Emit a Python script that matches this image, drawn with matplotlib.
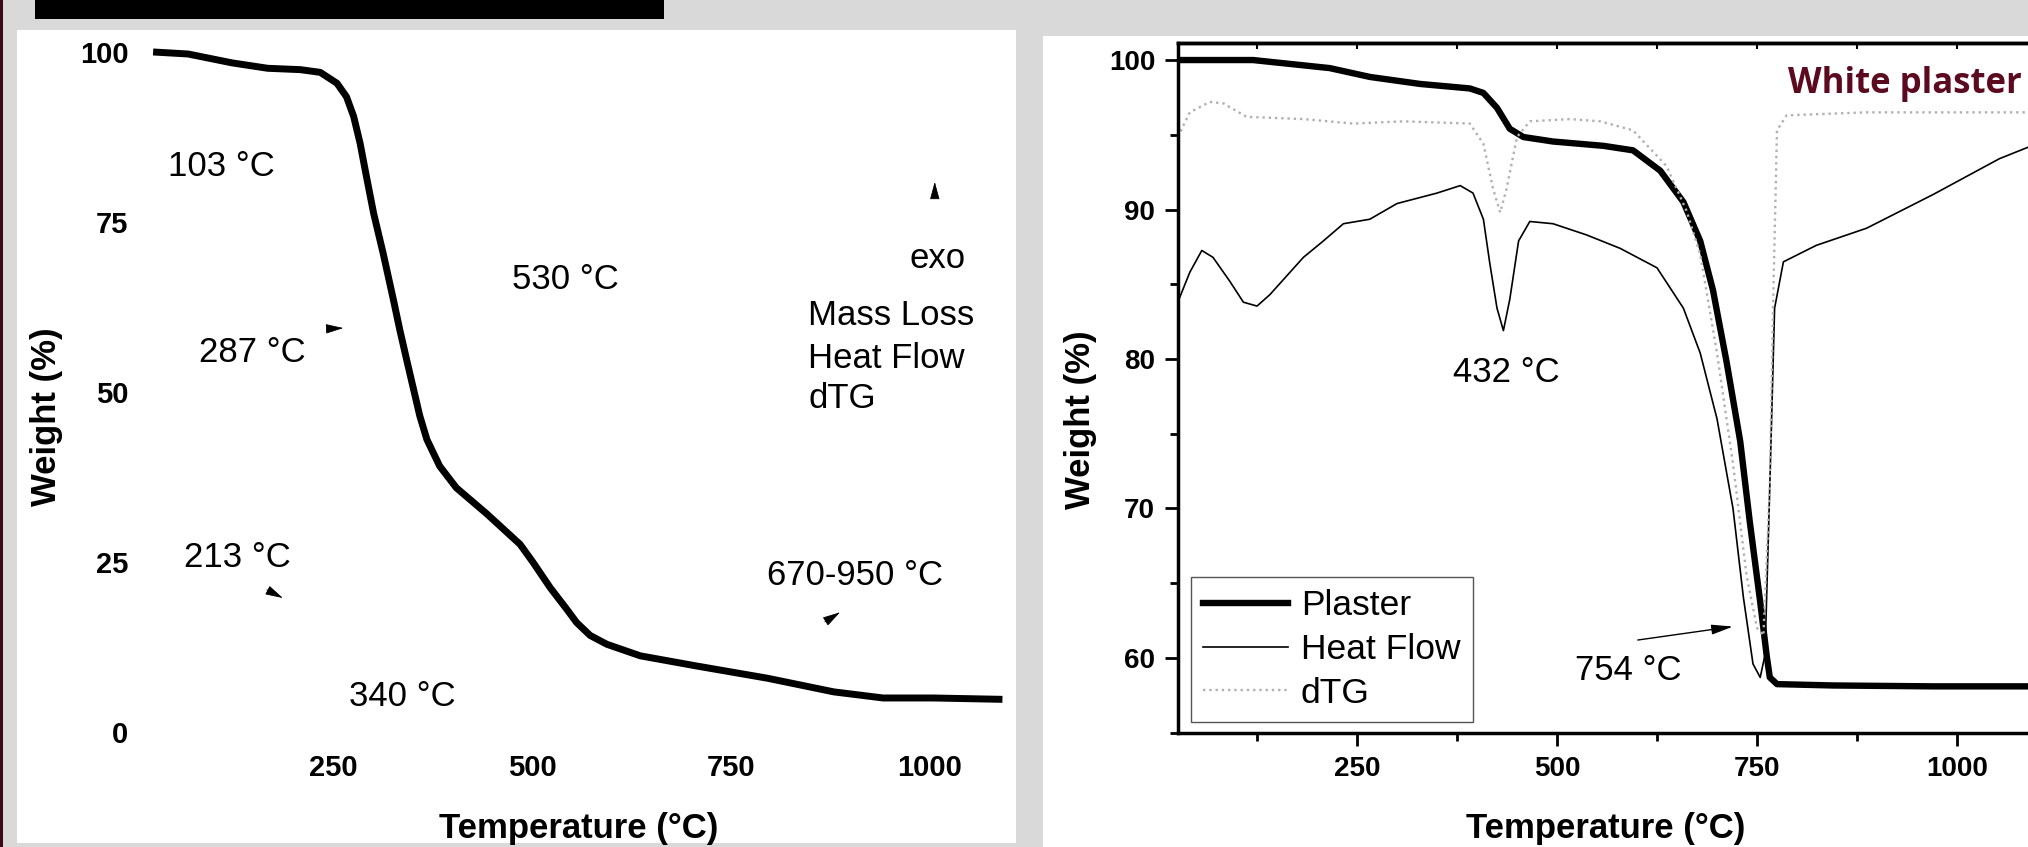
import matplotlib
matplotlib.use("Agg")
import matplotlib.pyplot as plt
from matplotlib.patches import Rectangle
from matplotlib.ticker import MultipleLocator

plt.rcParams["font.family"] = ["Liberation Sans", "DejaVu Sans"]

# left panel: mass loss curve
tg_temp = [24, 68, 123, 168, 209, 234, 255, 267, 276, 284, 292, 301, 313, 326, 334,
           343, 351, 359, 368, 384, 405, 443, 485, 501, 523, 544, 556, 573, 594, 636,
           707, 796, 879, 941, 1004, 1091]
tg_weight = [100, 99.7, 98.4, 97.6, 97.4, 97.0, 95.4, 93.4, 90.5, 86.6, 81.7, 76.3, 70.4,
             63.5, 59.1, 54.5, 50.5, 46.5, 43.0, 39.1, 35.9, 32.1, 27.6, 25.0, 21.2, 18.0,
             16.1, 14.2, 12.9, 11.2, 9.7, 7.9, 5.9, 5.0, 5.0, 4.8]
left_xticks = [250, 500, 750, 1000]
left_yticks = [0, 25, 50, 75, 100]

# right panel: white plaster
plaster_temp = [26, 120, 216, 266, 329, 391, 408, 425, 441, 458, 495, 558, 595, 629, 658,
                679, 695, 712, 729, 741, 754, 762, 766, 775, 845, 970, 1095]
plaster_weight = [100, 100, 99.46, 98.87, 98.4, 98.1, 97.8, 96.8, 95.4, 94.85, 94.55, 94.26,
                  93.96, 92.6, 90.5, 87.9, 84.6, 79.8, 74.5, 69.1, 63.75, 60.2, 58.7, 58.25,
                  58.16, 58.1, 58.1]
heat_temp = [26, 41, 56, 70, 91, 108, 125, 141, 183, 208, 233, 266, 300, 350, 379, 395, 408,
             416, 425, 433, 441, 452, 466, 495, 537, 579, 625, 658, 679, 700, 720, 733, 745,
             754, 760, 766, 772, 783, 824, 887, 970, 1053, 1095]
heat_flow = [83.8, 85.8, 87.26, 86.8, 85.2, 83.8, 83.54, 84.3, 86.8, 87.9, 89.05, 89.35, 90.4,
             91.1, 91.6, 91.1, 89.35, 86.4, 83.4, 81.9, 84.0, 87.9, 89.2, 89.05, 88.3, 87.4,
             86.1, 83.4, 80.4, 76.0, 70.0, 64.05, 59.6, 58.7, 60.2, 71.5, 83.4, 86.5, 87.6,
             88.75, 91.0, 93.4, 94.3]
dtg_temp = [26, 41, 66, 83, 112, 183, 245, 308, 391, 408, 420, 429, 437, 450, 466, 516, 554,
            595, 637, 662, 679, 700, 720, 737, 750, 758, 766, 770, 775, 787, 887, 1095]
dtg = [94.85, 96.5, 97.2, 97.1, 96.2, 96.05, 95.75, 95.9, 95.75, 94.4, 91.4, 89.8, 91.4,
       94.85, 95.9, 96.05, 95.9, 95.3, 92.9, 89.9, 87.0, 80.4, 73.0, 65.5, 62.0, 61.5, 71.5,
       83.4, 95.3, 96.3, 96.5, 96.5]
right_labels = ["Plaster", "Heat Flow", "dTG"]

W_PX, H_PX = 2028, 847


def box(x0, y0, x1, y1):
    """pixel box, origin top left -> figure fraction [l, b, w, h]"""
    return [x0 / W_PX, 1 - y1 / H_PX, (x1 - x0) / W_PX, (y1 - y0) / H_PX]


fig = plt.figure(figsize=(20.28, 8.47), dpi=100, facecolor="#d9d9d9")


def panel(x0, y0, x1, y1, color):
    l, b, w, h = box(x0, y0, x1, y1)
    fig.add_artist(Rectangle((l, b), w, h, transform=fig.transFigure,
                             facecolor=color, edgecolor="none", zorder=-1))


panel(17, 30, 1016, 843, "white")
panel(1043, 36, 2028, 847, "white")
panel(35, 0, 664, 19, "black")
panel(0, 0, 3, 847, "#3b0a14")

# ---- left panel ----
ax1 = fig.add_axes(box(148, 40, 1008, 750))
ax1.set_facecolor("none")
ax1.plot(tg_temp, tg_weight, color="black", lw=5, solid_capstyle="butt",
         solid_joinstyle="round")
ax1.set_xlim(17.6, 1098)
ax1.set_ylim(-2.65, 101.76)
ax1.set_xticks(left_xticks)
ax1.set_yticks(left_yticks)
for s in ax1.spines.values():
    s.set_visible(False)
ax1.tick_params(axis="both", length=0, labelsize=21)
ax1.tick_params(axis="y", pad=14)
ax1.tick_params(axis="x", pad=3)
for lab in ax1.get_xticklabels() + ax1.get_yticklabels():
    lab.set_fontweight("bold")
ax1.set_xlabel("Temperature (°C)", fontsize=25, fontweight="bold", va="center")
ax1.xaxis.set_label_coords(0.501, -0.11)
ax1.set_ylabel("Weight (%)", fontsize=25, fontweight="bold", va="center")
ax1.yaxis.set_label_coords(-0.118, 0.47)

left_notes = [("103 °C", 43, 81.8), ("287 °C", 82, 54.4), ("213 °C", 63, 24.3),
              ("340 °C", 270, 3.8), ("530 °C", 475, 65.1), ("670-950 °C", 795, 21.6),
              ("Mass Loss", 847, 59.9), ("Heat Flow", 847, 53.5), ("dTG", 847, 47.6)]
for txt, x, y in left_notes:
    ax1.text(x, y, txt, fontsize=25, va="baseline", ha="left")
ax1.text(1009, 68.2, "exo", fontsize=25, va="baseline", ha="center")

# small arrowheads (tail, tip)
heads = [((244, 59.3), (263, 59.4)), ((167, 20.9), (187, 19.7)),
         ((868, 16.2), (887, 17.6)), ((1006, 78.7), (1006, 80.9))]
for tail, tip in heads:
    ax1.annotate("", xy=tip, xytext=tail,
                 arrowprops=dict(arrowstyle="-|>,head_length=1.1,head_width=0.3",
                                 color="black", lw=0.6, mutation_scale=10,
                                 shrinkA=0, shrinkB=0))

# ---- right panel ----
ax2 = fig.add_axes(box(1178, 43, 2100, 733))
ax2.set_facecolor("white")
ax2.plot(plaster_temp, plaster_weight, color="black", lw=4.6, label=right_labels[0],
         solid_joinstyle="round")
ax2.plot(heat_temp, heat_flow, color="black", lw=1.2, label=right_labels[1])
ax2.plot(dtg_temp, dtg, color="#b0b0b0", lw=1.7, ls=":", label=right_labels[2])
ax2.set_xlim(26.25, 1178.75)
ax2.set_ylim(54.98, 101.14)
ax2.xaxis.set_major_locator(MultipleLocator(250))
ax2.xaxis.set_minor_locator(MultipleLocator(125))
ax2.yaxis.set_major_locator(MultipleLocator(10))
ax2.yaxis.set_minor_locator(MultipleLocator(5))
for s in ax2.spines.values():
    s.set_linewidth(2.5)
ax2.tick_params(which="major", direction="out", length=9.4, width=2, labelsize=20, pad=7)
ax2.tick_params(which="minor", direction="out", length=5.5, width=2)
for lab in ax2.get_xticklabels() + ax2.get_yticklabels():
    lab.set_fontweight("bold")
ax2.set_xlabel("Temperature (°C)", fontsize=25, fontweight="bold", va="center")
ax2.xaxis.set_label_coords(0.464, -0.138)
ax2.set_ylabel("Weight (%)", fontsize=25, fontweight="bold", va="center")
ax2.yaxis.set_label_coords(-0.106, 0.454)

# small inward ticks along the top frame
top = ax2.secondary_xaxis("top")
top.xaxis.set_major_locator(MultipleLocator(125))
top.tick_params(direction="in", length=4, width=1.5, labeltop=False)
top.spines["top"].set_linewidth(2.5)

ax2.text(370, 78.46, "432 °C", fontsize=25, va="baseline")
ax2.text(522, 58.5, "754 °C", fontsize=25, va="baseline")
ax2.annotate("", xy=(720, 62.1), xytext=(601, 61.2),
             arrowprops=dict(arrowstyle="-|>,head_length=1.3,head_width=0.3",
                             color="black", lw=1, mutation_scale=10,
                             shrinkA=0, shrinkB=0))
ax2.text(789, 97.8, "White plaster", fontsize=25, fontweight="bold",
         color="#5c0a1f", family=["Open Sans", "DejaVu Sans"], va="baseline")

leg = ax2.legend(loc="lower left", bbox_to_anchor=(0.0141, 0.0159), borderaxespad=0,
                 fontsize=25.5, frameon=True, fancybox=False, edgecolor="#555555",
                 handlelength=2.4, handletextpad=0.35, labelspacing=0.3, borderpad=0.35)
leg.get_frame().set_linewidth(1.0)
leg.get_frame().set_alpha(1)

fig.savefig("out.png", dpi=100, facecolor=fig.get_facecolor())
